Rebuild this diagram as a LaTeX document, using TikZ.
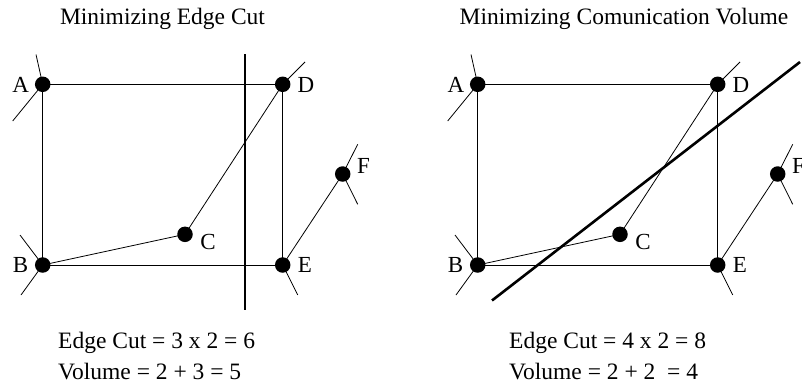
\documentclass[tikz,border=0pt]{standalone}
\usepackage{fontspec}
\setmainfont{Liberation Serif}
\begin{document}
\begin{tikzpicture}[x=1pt,y=-1pt,
  vtx/.style={circle,fill=black,draw=none,inner sep=0pt,minimum size=15.5pt},
  lbl/.style={inner sep=0pt,font=\fontsize{23}{23}\selectfont},
  txt/.style={inner sep=0pt,anchor=base west,font=\fontsize{23.5}{23.5}\selectfont},
  ttl/.style={inner sep=0pt,anchor=base,font=\fontsize{23.5}{23.5}\selectfont},
  edge/.style={line width=0.8pt},
  cut/.style={line width=2.6pt}]
\useasboundingbox (0,0) rectangle (802,386);
% titles
\node[ttl] (t1) at (162.5,24) {Minimizing Edge Cut};
\node[ttl] (t2) at (624,24) {Minimizing Comunication Volume};
% both panels
\foreach \p/\dx in {L/0,R/435}{
  \node[vtx] (A\p) at (42.7+\dx,84.3) {};
  \node[vtx] (B\p) at (42.7+\dx,265) {};
  \node[vtx] (C\p) at (185+\dx,234.3) {};
  \node[vtx] (D\p) at (282.7+\dx,84.3) {};
  \node[vtx] (E\p) at (282.7+\dx,265) {};
  \node[vtx] (F\p) at (342.7+\dx,174) {};
  \node[lbl] (Al\p) at (20.8+\dx,85) {A};
  \node[lbl] (Bl\p) at (20.5+\dx,264.5) {B};
  \node[lbl] (Cl\p) at (208+\dx,241.5) {C};
  \node[lbl] (Dl\p) at (306+\dx,84.5) {D};
  \node[lbl] (El\p) at (305+\dx,264.7) {E};
  \node[lbl] (Fl\p) at (363.5+\dx,166) {F};
  \coordinate (a1\p) at (36+\dx,54.5);
  \coordinate (a2\p) at (12.7+\dx,121);
  \coordinate (b1\p) at (20+\dx,235);
  \coordinate (b2\p) at (21+\dx,295);
  \coordinate (d1\p) at (305+\dx,62);
  \coordinate (e1\p) at (297.7+\dx,295);
  \coordinate (f1\p) at (357.7+\dx,144.3);
  \coordinate (f2\p) at (357.7+\dx,204.3);
  \draw[edge] (A\p.center) -- (D\p.center);
  \draw[edge] (A\p.center) -- (B\p.center);
  \draw[edge] (B\p.center) -- (C\p.center);
  \draw[edge] (B\p.center) -- (E\p.center);
  \draw[edge] (C\p.center) -- (D\p.center);
  \draw[edge] (D\p.center) -- (E\p.center);
  \draw[edge] (E\p.center) -- (F\p.center);
  \draw[edge] (a1\p) -- (A\p.center) -- (a2\p);
  \draw[edge] (b1\p) -- (B\p.center) -- (b2\p);
  \draw[edge] (D\p.center) -- (d1\p);
  \draw[edge] (E\p.center) -- (e1\p);
  \draw[edge] (f1\p) -- (F\p.center) -- (f2\p);
}
% cut lines
\coordinate (c1a) at (245,54);
\coordinate (c1b) at (245,310);
\draw[cut] (c1a) -- (c1b);
\coordinate (c2a) at (800,62);
\coordinate (c2b) at (492,300.5);
\draw[cut] (c2a) -- (c2b);
% bottom texts
\node[txt] (l1) at (58,348) {Edge Cut = 3 x 2 = 6};
\node[txt] (l2) at (58,379) {Volume = 2 + 3 = 5};
\node[txt] (r1) at (509,348) {Edge Cut = 4 x 2 = 8};
\node[txt] (r2) at (509,379) {Volume = 2 + 2 \ = 4};
\end{tikzpicture}
\end{document}
